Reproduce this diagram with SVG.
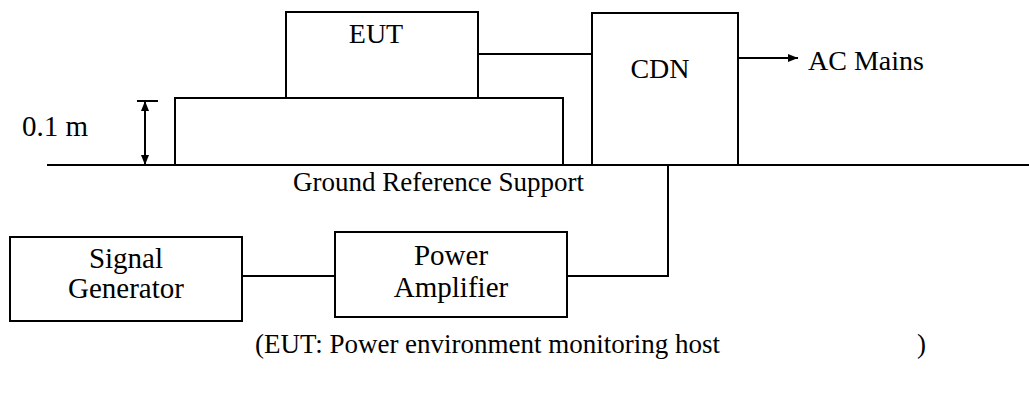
<svg xmlns="http://www.w3.org/2000/svg" width="1029" height="397" viewBox="0 0 1029 397">
<style>
.box{fill:#fff;stroke:#000;stroke-width:2}
.ln{fill:none;stroke:#000;stroke-width:2}
text.t{font-family:'Liberation Serif','Times New Roman',serif;font-size:28px;fill:#000}
text.s{font-size:27px}
text.b{font-size:29px}
.c{text-anchor:middle}
</style>
<defs>
<marker id="ah" viewBox="0 0 10 10" refX="10" refY="5" markerWidth="10" markerHeight="10" markerUnits="userSpaceOnUse" orient="auto-start-reverse">
<path d="M0,1 L10,5 L0,9 z" fill="#000"/>
</marker>
</defs>
<rect width="1029" height="397" fill="#fff"/>
<g id="ground">
<line class="ln" x1="47" y1="165" x2="1029" y2="165"/>
<text class="t s" x="293" y="191">Ground Reference Support</text>
</g>
<g id="platform">
<path class="ln" d="M175,165 V98 H563 V165"/>
</g>
<g id="dimension">
<line class="ln" x1="137" y1="101" x2="158" y2="101"/>
<line class="ln" x1="145" y1="101" x2="145" y2="165" marker-start="url(#ah)" marker-end="url(#ah)"/>
<text class="t b" x="22" y="136">0.1 m</text>
</g>
<g id="eut">
<rect class="box" x="286" y="12" width="192" height="86"/>
<text class="t c" x="376" y="43">EUT</text>
</g>
<g id="cdn">
<rect class="box" x="592" y="13" width="146" height="152"/>
<text class="t c" x="660" y="78">CDN</text>
</g>
<g id="ac-mains">
<text class="t" x="808" y="70">AC Mains</text>
</g>
<g id="signal-generator">
<rect class="box" x="10" y="237" width="232" height="84"/>
<text class="t b c" x="126" y="268">Signal</text>
<text class="t b c" x="126" y="298">Generator</text>
</g>
<g id="power-amplifier">
<rect class="box" x="335" y="232" width="232" height="85"/>
<text class="t b c" x="451" y="265">Power</text>
<text class="t b c" x="451" y="297">Amplifier</text>
</g>
<g id="connectors">
<line class="ln" x1="478" y1="54" x2="592" y2="54"/>
<line class="ln" x1="738" y1="58" x2="798" y2="58" marker-end="url(#ah)"/>
<polyline class="ln" points="668,165 668,276 567,276"/>
<line class="ln" x1="242" y1="276" x2="335" y2="276"/>
</g>
<g id="caption">
<text class="t s" x="255" y="353">(EUT: Power environment monitoring host</text>
<text class="t s" x="917" y="353">)</text>
</g>
</svg>
